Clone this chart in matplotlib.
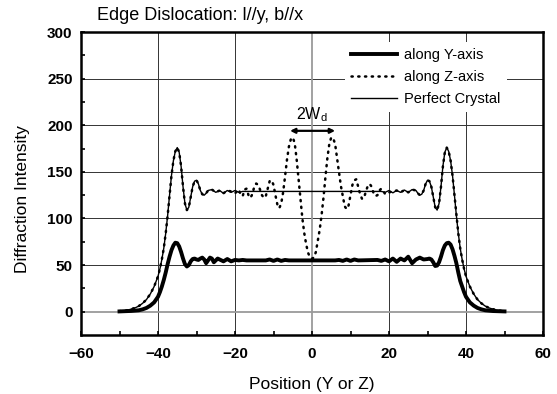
import matplotlib
matplotlib.use("Agg")
import matplotlib.pyplot as plt

# Perfect crystal
pc_x = [-50, -48, -46, -45, -44, -43, -42, -41, -40, -39.5, -39, -38.5, -38, -37.5, -37, -36.5,
        -36, -35.5, -35, -34.5, -34, -33.5, -33, -32.5, -32, -31.5, -31, -30.5, -30, -29.5,
        -29, -28.5, -28, -27.5, -27, -26, -25, -24, -23, -22, -21, -20, -19, -18, -15, -10,
        0, 10, 15, 18, 19, 20, 21, 22, 23, 24, 25, 26, 27, 27.5, 28, 28.5, 29, 29.5, 30,
        30.5, 31, 31.5, 32, 32.5, 33, 33.5, 34, 34.5, 35, 35.5, 36, 36.5, 37, 37.5, 38,
        38.5, 39, 39.5, 40, 41, 42, 43, 44, 45, 46, 48, 50]
pc_y = [0.5, 1.5, 4, 6, 9, 13, 19, 27, 38, 46, 56, 68, 84, 103, 125, 146,
        162, 172, 176, 171, 156, 134, 116, 109, 112, 123, 134, 140, 141, 137,
        130, 126, 125, 127, 130, 131, 128, 130, 127, 130, 128, 130, 128, 129, 129, 129,
        129, 129, 129, 129, 128, 130, 127.5, 130, 128, 130.5, 128, 131, 130, 127, 125, 126, 130, 137, 141,
        140, 134, 123, 112, 109, 116, 134, 156, 171, 176, 172, 162, 146, 125, 103, 84,
        68, 56, 46, 38, 27, 19, 13, 9, 6, 4, 1.5, 0.5]

# along Z-axis (dotted)
za_x = [-50, -48, -46, -45, -44, -43, -42, -41, -40, -39.5, -39, -38.5, -38, -37.5, -37, -36.5,
        -36, -35.5, -35, -34.5, -34, -33.5, -33, -32.5, -32, -31.5, -31, -30.5, -30, -29.5,
        -29, -28.5, -28, -27.5, -27, -26, -25, -24, -23, -22, -21, -20, -19, -18.5, -18,
        -17.5, -17, -16.5, -16, -15.5, -15, -14.5, -14, -13.5, -13, -12.5, -12, -11.5, -11,
        -10.5, -10, -9.5, -9, -8.5, -8, -7.5, -7, -6.5, -6, -5.5, -5, -4.5, -4, -3.5, -3,
        -2.5, -2, -1.5, -1, -0.5, 0, 0.5, 1, 1.5, 2, 2.5, 3, 3.5, 4, 4.5, 5, 5.5, 6, 6.5,
        7, 7.5, 8, 8.5, 9, 9.5, 10, 10.5, 11, 11.5, 12, 12.5, 13, 13.5, 14, 14.5, 15, 15.5,
        16, 16.5, 17, 17.5, 18, 18.5, 19, 20, 21, 22, 23, 24, 25, 26, 27, 27.5, 28, 28.5,
        29, 29.5, 30, 30.5, 31, 31.5, 32, 32.5, 33, 33.5, 34, 34.5, 35, 35.5, 36, 36.5, 37,
        37.5, 38, 38.5, 39, 39.5, 40, 41, 42, 43, 44, 45, 46, 48, 50]
za_y = [0.5, 1.5, 4, 6, 9, 13, 19, 27, 38, 46, 56, 68, 84, 103, 125, 146,
        162, 172, 176, 171, 156, 134, 116, 109, 112, 123, 134, 140, 141, 137,
        130, 126, 125, 127, 130, 131, 128, 130, 127, 130, 129, 127, 131, 125, 124,
        131, 132, 125, 122, 126, 134, 137.5, 136, 131, 125, 122, 124, 132, 140,
        141, 136, 125, 115, 111, 116, 128, 145, 163, 177, 185, 187, 181, 164, 143, 121,
        100, 84, 72, 63, 58, 57, 58, 64, 76, 88, 104, 123, 145, 165, 180, 187, 186, 180, 165,
        150, 135, 124, 113, 110, 114, 125, 136, 141, 142, 134, 126, 121, 122, 129, 135, 137, 134,
        127, 124, 125, 130, 132, 130, 126, 128, 129, 130, 128, 130.5, 128, 131, 130, 127, 125, 126,
        130, 137, 141, 140, 134, 123, 112, 109, 116, 134, 156, 171, 176, 172, 162, 146, 125,
        103, 84, 68, 56, 46, 38, 27, 19, 13, 9, 6, 4, 1.5, 0.5]

# along Y-axis (thick)
ya_x = [-50, -47, -45, -44, -43, -42, -41, -40, -39.5, -39, -38.5, -38, -37.5, -37, -36.5, -36,
        -35.5, -35, -34.5, -34, -33.5, -33, -32.5, -32, -31.5, -31, -30.5, -30, -29.5, -29,
        -28.5, -28, -27.5, -27, -26.5, -26, -25.5, -25, -24.5, -24, -23, -22, -21, -20, -19,
        -18, -17, -12, -11, -10, -9, -8, -7, -6, 0, 6, 7, 8, 9, 10, 11, 12, 17, 18, 19, 20, 21,
        22, 23, 24, 25, 26, 27, 28, 29, 30, 30.5, 31, 31.5, 32, 32.5, 33, 33.5, 34, 34.5, 35,
        35.5, 36, 36.5, 37, 37.5, 38, 38.5, 39, 39.5, 40, 41, 42, 43, 44, 45, 47, 50]
ya_y = [0.3, 0.8, 1.5, 2.5, 4, 6.5, 10, 16, 21, 27, 34, 42, 51, 59, 66, 71,
        74, 73.5, 70, 64, 57, 51, 48.5, 50, 54, 56.5, 57, 56, 55.5, 57,
        58, 56, 52, 55, 58, 57, 53, 55, 57, 56, 54, 56.5, 54, 55.5, 55,
        55.5, 55, 55, 56, 54.5, 56, 54.5, 55.5, 55, 55, 55, 55.5, 54.5, 56, 54.5, 56, 55, 55.5, 54.5, 56, 54, 57,
        53.5, 57, 55, 59, 52, 56, 58, 56, 56.5, 57, 56, 53, 49, 49.5, 53, 59, 66, 71, 73.5,
        74, 72, 67, 60, 52, 42, 33, 27, 21, 16, 10, 6.5, 4, 2.5, 1.5, 0.7, 0.3]

x_ticks = [-60, -40, -20, 0, 20, 40, 60]
y_ticks = [0, 50, 100, 150, 200, 250, 300]

fig = plt.figure(figsize=(5.57, 3.94), dpi=100)
ax = fig.add_axes([81/557, 1 - 335/394, 462/557, 303/394])

for v in [-40, -20, 20, 40]:
    ax.axvline(v, color="#333333", lw=0.7, zorder=0)
for v in [50, 100, 150, 200, 250]:
    ax.axhline(v, color="#333333", lw=0.7, zorder=0)
ax.axvline(0, color="#9a9a9a", lw=1.3, zorder=0)
ax.axhline(0, color="#9a9a9a", lw=1.3, zorder=0)

ax.plot(ya_x, ya_y, color="black", lw=2.8, label="along Y-axis", solid_joinstyle="round")
ax.plot(za_x, za_y, color="black", lw=1.8, ls=(0, (0.5, 2.2)), dash_capstyle="round",
        label="along Z-axis")
ax.plot(pc_x, pc_y, color="black", lw=1.0, label="Perfect Crystal")

ax.set_xlim(-60, 60)
ax.set_ylim(-25, 300)
ax.set_xticks(x_ticks)
ax.set_yticks(y_ticks)
ax.set_xticks([-50, -30, -10, 10, 30, 50], minor=True)
ax.set_yticks([25, 75, 125, 175, 225, 275], minor=True)
ax.tick_params(which="both", direction="in", length=3, width=1.2)
ax.tick_params(which="major", labelsize=11, pad=6)
ax.tick_params(axis="x", which="major", pad=9)
for lab in ax.get_xticklabels() + ax.get_yticklabels():
    lab.set_fontweight("bold")
    lab.set_family("Liberation Sans")
for s in ax.spines.values():
    s.set_linewidth(1.8)

ax.set_xlabel("Position (Y or Z)", fontsize=12.5, family="Liberation Sans", labelpad=11)
ax.set_ylabel("Diffraction Intensity", fontsize=12.5, family="Liberation Sans")
ax.yaxis.set_label_coords(-0.11, 0.45)
fig.text(97/557, 1 - 15/394, "Edge Dislocation: l//y, b//x", fontsize=13,
         family="Liberation Sans", va="center", ha="left")

# 2Wd marker
ax.annotate("", xy=(-5.7, 194), xytext=(6.0, 194),
            arrowprops=dict(arrowstyle="<|-|>", color="black", lw=1.6, mutation_scale=7,
                            shrinkA=0, shrinkB=0))
ax.text(0, 201, r"2W$_\mathregular{d}$", ha="center", va="bottom", fontsize=11.5,
        family="Liberation Sans")

leg = ax.legend(loc="upper left", bbox_to_anchor=(0.555, 0.99), frameon=True,
                handlelength=3.2, handletextpad=0.5, labelspacing=0.55, borderpad=0.4,
                prop={"family": "Liberation Sans", "size": 10.5})
leg.get_frame().set_edgecolor("none")
leg.get_frame().set_facecolor("white")
leg.get_frame().set_alpha(1)

fig.savefig("out.png", dpi=100)
